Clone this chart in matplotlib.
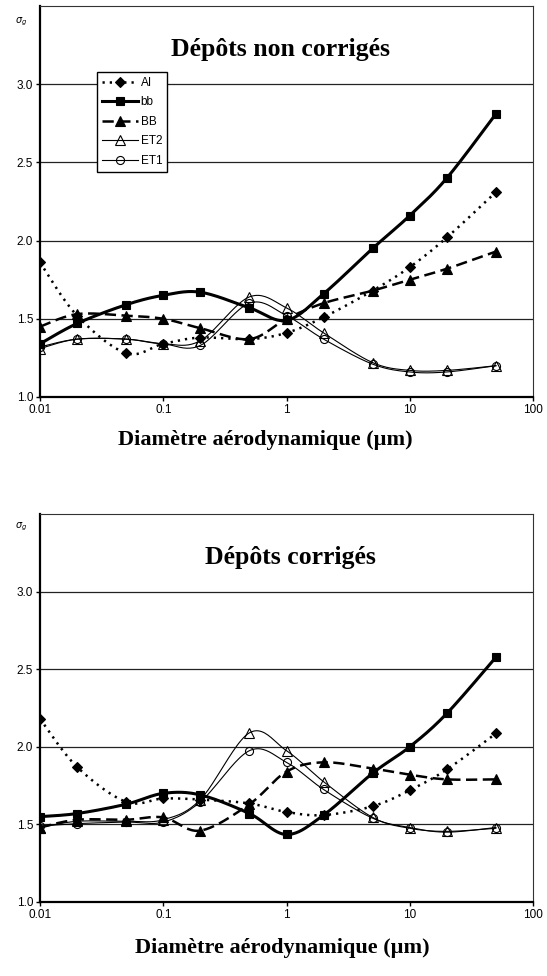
import numpy as np
import matplotlib
matplotlib.use('Agg')
import matplotlib.pyplot as plt
from matplotlib.lines import Line2D

plt.rcParams['font.family'] = ['Liberation Sans', 'DejaVu Sans']

# aerodynamic diameters (µm)
diam = [0.01, 0.02, 0.05, 0.1, 0.2, 0.5, 1, 2, 5, 10, 20, 50]

# sigma_g, uncorrected deposits
raw_AI = [1.86, 1.52, 1.28, 1.34, 1.38, 1.37, 1.41, 1.51, 1.68, 1.83, 2.02, 2.31]
raw_bb = [1.34, 1.47, 1.59, 1.65, 1.67, 1.57, 1.49, 1.66, 1.95, 2.16, 2.40, 2.81]
raw_BB = [1.45, 1.53, 1.52, 1.50, 1.44, 1.37, 1.50, 1.60, 1.68, 1.75, 1.82, 1.93]
raw_ET2 = [1.31, 1.37, 1.37, 1.34, 1.36, 1.64, 1.57, 1.41, 1.22, 1.17, 1.17, 1.20]
raw_ET1 = [1.32, 1.37, 1.37, 1.34, 1.33, 1.60, 1.52, 1.37, 1.21, 1.16, 1.16, 1.20]

# sigma_g, corrected deposits
cor_AI = [2.18, 1.87, 1.645, 1.667, 1.66, 1.635, 1.58, 1.56, 1.617, 1.72, 1.854, 2.086]
cor_bb = [1.55, 1.57, 1.63, 1.70, 1.69, 1.57, 1.435, 1.56, 1.83, 2.00, 2.215, 2.577]
cor_BB = [1.48, 1.53, 1.53, 1.545, 1.46, 1.63, 1.84, 1.90, 1.86, 1.82, 1.79, 1.79]
cor_ET2 = [1.48, 1.52, 1.52, 1.53, 1.66, 2.09, 1.975, 1.775, 1.545, 1.475, 1.455, 1.475]
cor_ET1 = [1.49, 1.505, 1.515, 1.515, 1.645, 1.975, 1.90, 1.725, 1.54, 1.48, 1.45, 1.48]

names = ['AI', 'bb', 'BB', 'ET2', 'ET1']
xticks = [0.01, 0.1, 1, 10, 100]
xtick_labels = ['0.01', '0.1', '1', '10', '100']
yticks = [1.0, 1.5, 2.0, 2.5, 3.0]
ytick_labels = ['1.0', '1.5', '2.0', '2.5', '3.0']

styles = {
    'AI': dict(ls=(0, (0.9, 2.0)), lw=1.8, marker='D', ms=4.6, mfc='black'),
    'bb': dict(ls='-', lw=2.2, marker='s', ms=6.3, mfc='black'),
    'BB': dict(ls=(0, (4.5, 2.2)), lw=1.8, marker='^', ms=6.5, mfc='black'),
    'ET2': dict(ls='-', lw=0.8, marker='^', ms=6.5, mfc='none'),
    'ET1': dict(ls='-', lw=0.8, marker='o', ms=5.8, mfc='none'),
}


def smooth(x, y, n=24):
    # bezier smoothing through the points, done in log-x space
    pts = np.column_stack([np.log10(x), np.asarray(y, float)])
    out = [pts[0]]
    t = np.linspace(0, 1, n)[1:, None]
    for i in range(len(pts) - 1):
        p0 = pts[i - 1] if i > 0 else pts[i]
        p1, p2 = pts[i], pts[i + 1]
        p3 = pts[i + 2] if i + 2 < len(pts) else pts[i + 1]
        c1 = p1 + (p2 - p0) / 6
        c2 = p2 - (p3 - p1) / 6
        seg = (1 - t)**3 * p1 + 3 * (1 - t)**2 * t * c1 + 3 * (1 - t) * t**2 * c2 + t**3 * p2
        out.extend(seg)
    out = np.array(out)
    return 10**out[:, 0], out[:, 1]


def draw_panel(ax, series, title, title_x):
    for k, (name, vals) in enumerate(zip(names, series)):
        st = styles[name]
        sx, sy = smooth(diam, vals)
        ax.plot(sx, sy, color='black', ls=st['ls'], lw=st['lw'], zorder=3 + k)
        ax.plot(diam, vals, ls='none', marker=st['marker'], ms=st['ms'],
                mfc=st['mfc'], mec='black', mew=0.8, zorder=3 + k)
    ax.set_xscale('log')
    ax.set_xlim(0.01, 100)
    ax.set_ylim(1.0, 3.5)
    ax.set_xticks(xticks)
    ax.set_xticklabels(xtick_labels)
    ax.minorticks_off()
    ax.set_yticks(yticks)
    ax.set_yticklabels(ytick_labels)
    ax.tick_params(direction='out', length=3, width=1, labelsize=8.5, pad=2)
    ax.grid(axis='y', color='#222222', lw=0.9)
    ax.set_axisbelow(True)
    for s in ['left', 'bottom']:
        ax.spines[s].set_linewidth(1.6)
    for s in ['top', 'right']:
        ax.spines[s].set_linewidth(0.8)
        ax.spines[s].set_color('#333333')
    ax.text(title_x, 0.888, title, transform=ax.transAxes, ha='center', va='center',
            fontsize=18.5, fontweight='bold', family=['Liberation Serif'])


fig = plt.figure(figsize=(5.47, 9.76), dpi=100)
W, H = 547, 976
ax1 = fig.add_axes([40 / W, 1 - 397 / H, 493 / W, 391 / H])
ax2 = fig.add_axes([40 / W, 1 - 902 / H, 493 / W, 388 / H])

draw_panel(ax1, [raw_AI, raw_bb, raw_BB, raw_ET2, raw_ET1], 'Dépôts non corrigés', 0.487)
draw_panel(ax2, [cor_AI, cor_bb, cor_BB, cor_ET2, cor_ET1], 'Dépôts corrigés', 0.507)

handles = []
for name in names:
    st = styles[name]
    handles.append(Line2D([], [], color='black', ls=st['ls'], lw=st['lw'],
                          marker=st['marker'], ms=st['ms'], mfc=st['mfc'],
                          mec='black', mew=0.8))
leg = ax1.legend(handles, names, loc='upper left',
                 bbox_to_anchor=((97 - 40) / 493, 1 - (72 - 6) / 391),
                 borderaxespad=0, fontsize=8.5, handlelength=3.1, handletextpad=0.2,
                 labelspacing=0.64, borderpad=0.4, fancybox=False, framealpha=1,
                 edgecolor='black')
leg.get_frame().set_linewidth(1.0)
leg.set_zorder(20)

for ytxt, xax, yax in [(22, 265, 440), (527, 282, 948)]:
    fig.text(15 / W, 1 - ytxt / H, r'$\sigma_g$', fontsize=7, ha='left', va='center')
    fig.text(xax / W, 1 - yax / H, 'Diamètre aérodynamique (µm)', ha='center',
             va='center', fontsize=16, fontweight='bold', family=['Liberation Serif'])

fig.savefig('out.png', dpi=100)
